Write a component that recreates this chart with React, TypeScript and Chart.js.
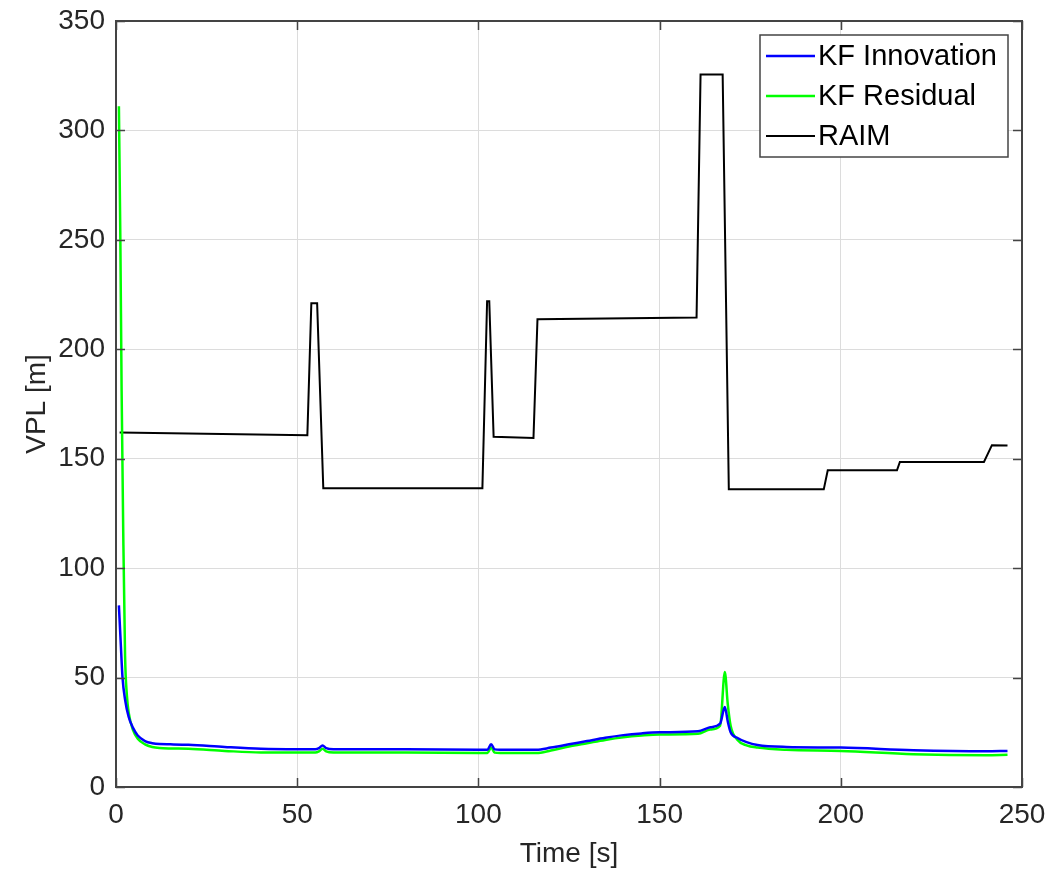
import React, { useEffect, useRef } from "react";
import { Chart, registerables } from "chart.js";

Chart.register(...registerables);

// ---- data ----
const seriesNames = ["KF Innovation", "KF Residual", "RAIM"];
const xTitle = "Time [s]";
const yTitle = "VPL [m]";
const xTicks = [0, 50, 100, 150, 200, 250];
const yTicks = [0, 50, 100, 150, 200, 250, 300, 350];

const innovTime = [0.8, 1.3, 1.8, 2.5, 3.5, 4.7, 6, 8, 10, 12, 15, 20, 30, 40, 50, 55, 56, 57, 58, 60, 80, 100, 102.5, 103.5, 104.5, 106, 116, 120, 125, 130, 135, 140, 145, 150, 160.6, 164, 166.7, 168.0, 168.8, 169.6, 171.5, 174, 177, 185, 200, 220, 240, 246];
const innovVPL = [83, 66, 50, 40, 32, 27, 23.5, 21, 20, 19.6, 19.5, 19.3, 18.3, 17.5, 17.3, 17.3, 17.8, 19, 17.8, 17.3, 17.3, 17, 17, 19.5, 17.2, 17, 17, 18, 19.5, 21, 22.5, 23.7, 24.5, 25, 25.5, 27.3, 29, 36.5, 30, 25, 22.4, 20.5, 19.2, 18.3, 18, 16.8, 16.3, 16.5];

const residTime = [0.8, 1.2, 1.55, 2, 2.5, 3, 3.5, 4.7, 6, 8, 10, 12, 15, 20, 30, 40, 50, 55, 56, 57, 58, 60, 80, 100, 102.5, 103.5, 104.5, 106, 116, 120, 125, 130, 135, 140, 145, 150, 160.6, 164, 166.7, 168.0, 168.8, 169.6, 171.5, 174, 177, 185, 200, 220, 240, 246];
const residVPL = [311, 250, 181, 116, 60, 42, 34, 26, 22, 19.5, 18.3, 17.8, 17.6, 17.5, 16.5, 15.8, 15.8, 15.8, 16.3, 17.5, 16.3, 15.8, 15.8, 15.5, 15.5, 18, 15.7, 15.5, 15.5, 16.7, 18.5, 20, 21.5, 22.7, 23.5, 24, 24.3, 26.3, 28, 52.5, 38, 28, 21.5, 19, 18, 17, 16.5, 15, 14.5, 14.7];

const raimTime = [1, 52.8, 53.9, 55.5, 57.2, 101.1, 102.4, 103, 104.2, 115.2, 116.3, 160.2, 161.3, 167.4, 169.1, 195.3, 196.4, 215.5, 216.3, 239.5, 241.7, 246];
const raimVPL = [162, 160.7, 221, 221, 136.5, 136.5, 222, 222, 160, 159.5, 213.7, 214.5, 325.5, 325.5, 136, 136, 144.7, 144.7, 148.5, 148.5, 156.2, 156];

const colors = ["#0000ff", "#00ff00", "#000000"];

const toPts = (t: number[], v: number[]) => t.map((x, i) => ({ x, y: v[i] }));

const FONT = "'Liberation Sans', Arial, Helvetica, sans-serif";
const AXIS_COLOR = "#444444";
const TEXT_COLOR = "#262626";

const framePlugin = {
  id: "frame",
  afterDraw(chart: any) {
    const ctx = chart.ctx;
    const a = chart.chartArea;
    const xs = chart.scales.x;
    const ys = chart.scales.y;
    ctx.save();
    // box
    ctx.strokeStyle = AXIS_COLOR;
    ctx.lineWidth = 2;
    ctx.strokeRect(a.left, a.top, a.right - a.left, a.bottom - a.top);
    // inner ticks
    ctx.lineWidth = 1.5;
    const tl = 9;
    ctx.beginPath();
    xTicks.forEach((t) => {
      const px = Math.round(xs.getPixelForValue(t)) + 0.5;
      ctx.moveTo(px, a.bottom);
      ctx.lineTo(px, a.bottom - tl);
      ctx.moveTo(px, a.top);
      ctx.lineTo(px, a.top + tl);
    });
    yTicks.forEach((t) => {
      const py = Math.round(ys.getPixelForValue(t)) + 0.5;
      ctx.moveTo(a.left, py);
      ctx.lineTo(a.left + tl, py);
      ctx.moveTo(a.right, py);
      ctx.lineTo(a.right - tl, py);
    });
    ctx.stroke();

    // axis titles
    ctx.fillStyle = TEXT_COLOR;
    ctx.font = `28px ${FONT}`;
    ctx.textAlign = "center";
    ctx.textBaseline = "middle";
    ctx.fillText(xTitle, (a.left + a.right) / 2, 854);
    ctx.save();
    ctx.translate(37, (a.top + a.bottom) / 2);
    ctx.rotate(-Math.PI / 2);
    ctx.fillText(yTitle, 0, 0);
    ctx.restore();

    // legend
    const lx = 760, ly = 35, lw = 248, lh = 122;
    ctx.fillStyle = "#ffffff";
    ctx.fillRect(lx, ly, lw, lh);
    ctx.strokeStyle = AXIS_COLOR;
    ctx.lineWidth = 1.5;
    ctx.strokeRect(lx, ly, lw, lh);
    const rows = [56, 96, 136];
    seriesNames.forEach((name, i) => {
      ctx.strokeStyle = colors[i];
      ctx.lineWidth = i === 2 ? 2 : 2.5;
      ctx.beginPath();
      ctx.moveTo(766, rows[i]);
      ctx.lineTo(815, rows[i]);
      ctx.stroke();
      ctx.fillStyle = "#000000";
      ctx.textAlign = "left";
      ctx.textBaseline = "middle";
      ctx.font = `29px ${FONT}`;
      ctx.fillText(name, 818, rows[i] + 1);
    });
    ctx.restore();
  },
};

const zeroPad = (s: any) => {
  s.paddingTop = 0;
  s.paddingBottom = 0;
  s.paddingLeft = 0;
  s.paddingRight = 0;
};

export default function App() {
  const ref = useRef<HTMLCanvasElement | null>(null);
  useEffect(() => {
    if (!ref.current) return;
    const chart = new Chart(ref.current, {
      type: "line",
      data: {
        datasets: [
          {
            label: seriesNames[0],
            data: toPts(innovTime, innovVPL),
            borderColor: colors[0],
            borderWidth: 2.5,
            pointRadius: 0,
            cubicInterpolationMode: "monotone",
          },
          {
            label: seriesNames[1],
            data: toPts(residTime, residVPL),
            borderColor: colors[1],
            borderWidth: 2.5,
            pointRadius: 0,
            cubicInterpolationMode: "monotone",
          },
          {
            label: seriesNames[2],
            data: toPts(raimTime, raimVPL),
            borderColor: colors[2],
            borderWidth: 2,
            pointRadius: 0,
            tension: 0,
          },
        ],
      },
      options: {
        responsive: false,
        animation: false,
        layout: { padding: { top: 21, right: 29, left: 0, bottom: 0 } },
        plugins: { legend: { display: false }, tooltip: { enabled: false } },
        scales: {
          x: {
            type: "linear",
            min: 0,
            max: 250,
            afterBuildTicks: (s: any) => {
              s.ticks = xTicks.map((v) => ({ value: v }));
            },
            afterFit: (s: any) => {
              s.height = 87;
              zeroPad(s);
            },
            grid: { color: "#dcdcdc", lineWidth: 1, drawTicks: false },
            border: { display: false },
            ticks: {
              padding: 11,
              color: TEXT_COLOR,
              font: { family: FONT, size: 28 },
              maxRotation: 0,
              autoSkip: false,
            },
          },
          y: {
            type: "linear",
            min: 0,
            max: 350,
            afterBuildTicks: (s: any) => {
              s.ticks = yTicks.map((v) => ({ value: v }));
            },
            afterFit: (s: any) => {
              s.width = 116;
              zeroPad(s);
            },
            grid: { color: "#dcdcdc", lineWidth: 1, drawTicks: false },
            border: { display: false },
            ticks: {
              padding: 11,
              color: TEXT_COLOR,
              font: { family: FONT, size: 28 },
              autoSkip: false,
            },
          },
        },
      },
      plugins: [framePlugin],
    } as any);
    return () => chart.destroy();
  }, []);
  return (
    <canvas
      ref={ref}
      width={1051}
      height={874}
      style={{ position: "absolute", left: 0, top: 0, display: "block", background: "#ffffff" }}
    />
  );
}
